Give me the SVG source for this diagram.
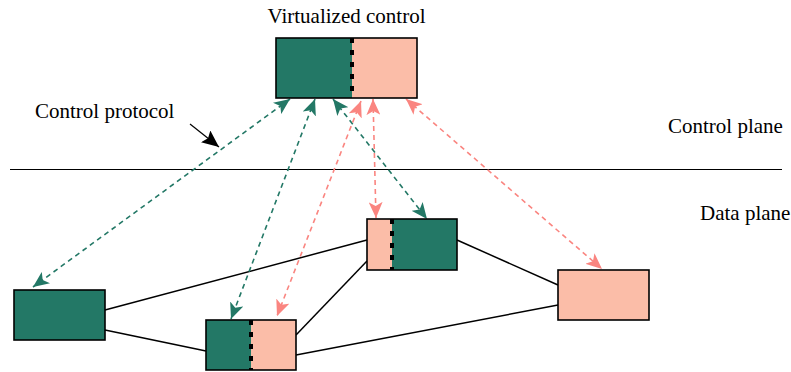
<svg xmlns="http://www.w3.org/2000/svg" width="791" height="372" viewBox="0 0 791 372">
<style>
text{font-family:"Liberation Serif","Times New Roman",serif;font-size:21px;fill:#000}
.g{fill:#237866}
.p{fill:#FBBDA8}
.box{fill:none;stroke:#000;stroke-width:1.6}
.div{stroke:#000;stroke-width:4;stroke-dasharray:5,7}
.link{stroke:#000;stroke-width:1.5;fill:none}
.dg{stroke:#237866;stroke-width:1.6;stroke-dasharray:5,4;fill:none;marker-start:url(#hg);marker-end:url(#hg)}
.dp{stroke:#FA8580;stroke-width:1.6;stroke-dasharray:5,4;fill:none;marker-start:url(#hp);marker-end:url(#hp)}
</style>
<defs>
<marker id="hg" viewBox="0 0 16 14" refX="16" refY="7" markerWidth="16" markerHeight="14" markerUnits="userSpaceOnUse" orient="auto-start-reverse"><path d="M0,0 L16,7 L0,14 L4,7 Z" fill="#237866"/></marker>
<marker id="hp" viewBox="0 0 16 14" refX="16" refY="7" markerWidth="16" markerHeight="14" markerUnits="userSpaceOnUse" orient="auto-start-reverse"><path d="M0,0 L16,7 L0,14 L4,7 Z" fill="#FA8580"/></marker>
<marker id="hb" viewBox="0 0 17 15" refX="17" refY="7.5" markerWidth="17" markerHeight="15" markerUnits="userSpaceOnUse" orient="auto"><path d="M0,0 L17,7.5 L0,15 L3,7.5 Z" fill="#000"/></marker>
</defs>
<text x="346.5" y="23" text-anchor="middle">Virtualized control</text>
<text x="35" y="118">Control protocol</text>
<text x="668" y="133">Control plane</text>
<text x="700" y="220">Data plane</text>
<line x1="10" y1="169.5" x2="782" y2="169.5" stroke="#000" stroke-width="1"/>
<g id="connectors">
<line class="link" x1="105" y1="310" x2="367" y2="240"/>
<line class="link" x1="105" y1="330" x2="206" y2="351"/>
<line class="link" x1="296" y1="335" x2="367" y2="261"/>
<line class="link" x1="296" y1="355" x2="558" y2="305"/>
<line class="link" x1="457" y1="240" x2="558" y2="285"/>
<line class="dg" x1="290" y1="99" x2="33" y2="287"/>
<line class="dg" x1="315" y1="99" x2="231" y2="319"/>
<line class="dg" x1="333" y1="99" x2="427" y2="219"/>
<line class="dp" x1="361" y1="101" x2="277" y2="316"/>
<line class="dp" x1="373" y1="99" x2="376" y2="218"/>
<line class="dp" x1="406" y1="99" x2="602" y2="269"/>
<line x1="190" y1="124" x2="219" y2="147" stroke="#000" stroke-width="1.2" marker-end="url(#hb)"/>
</g>
<g id="virtualized-control">
<rect class="g" x="276" y="38" width="76" height="60"/>
<rect class="p" x="352" y="38" width="65" height="60"/>
<line class="div" x1="352" y1="38" x2="352" y2="98"/>
<rect class="box" x="276" y="38" width="141" height="60"/>
</g>
<g id="switch-left">
<rect class="g" x="14" y="290" width="91" height="50"/>
<rect class="box" x="14" y="290" width="91" height="50"/>
</g>
<g id="switch-bottom">
<rect class="g" x="206" y="320" width="45" height="50"/>
<rect class="p" x="251" y="320" width="45" height="50"/>
<line class="div" x1="251" y1="320" x2="251" y2="370"/>
<rect class="box" x="206" y="320" width="90" height="50"/>
</g>
<g id="switch-middle">
<rect class="p" x="367" y="219" width="25" height="51"/>
<rect class="g" x="392" y="219" width="65" height="51"/>
<line class="div" x1="392" y1="219" x2="392" y2="270"/>
<rect class="box" x="367" y="219" width="90" height="51"/>
</g>
<g id="switch-right">
<rect class="p" x="558" y="270" width="91" height="50"/>
<rect class="box" x="558" y="270" width="91" height="50"/>
</g>
</svg>
